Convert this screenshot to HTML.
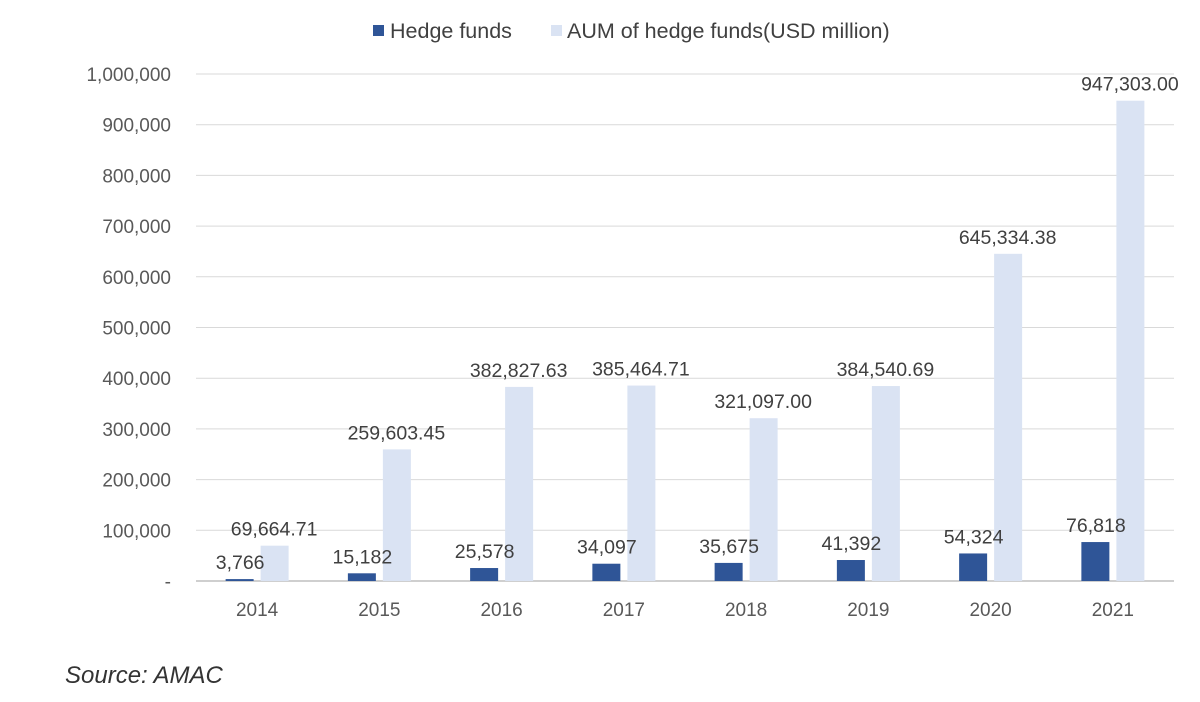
<!DOCTYPE html>
<html><head><meta charset="utf-8"><style>
body{margin:0;background:#fff;width:1200px;height:697px;overflow:hidden;font-family:"Liberation Sans",sans-serif}
svg text{font-family:"Liberation Sans",sans-serif}
</style></head><body>
<svg id="chart" width="1200" height="697" xmlns="http://www.w3.org/2000/svg">
<g id="legend">
<g><rect x="373" y="25" width="11" height="11" fill="#2f5597"/><text x="390" y="38" font-size="21.5" fill="#404040">Hedge funds</text></g>
<g><rect x="551" y="25" width="11" height="11" fill="#dae3f3"/><text x="567" y="38" font-size="21.5" fill="#404040">AUM of hedge funds(USD million)</text></g>
</g>
<g id="grid"></g><g id="bars"></g><g id="labels"></g>
<text x="65" y="683" font-size="24" font-style="italic" fill="#333">Source: AMAC</text>
</svg>
<script>
const years=["2014","2015","2016","2017","2018","2019","2020","2021"];
const hedgeFunds=[3766,15182,25578,34097,35675,41392,54324,76818];
const aum=[69664.71,259603.45,382827.63,385464.71,321097.00,384540.69,645334.38,947303.00];
const hedgeLabels=["3,766","15,182","25,578","34,097","35,675","41,392","54,324","76,818"];
const aumLabels=["69,664.71","259,603.45","382,827.63","385,464.71","321,097.00","384,540.69","645,334.38","947,303.00"];
const yTicks=[0,100000,200000,300000,400000,500000,600000,700000,800000,900000,1000000];
const yTickLabels=["-","100,000","200,000","300,000","400,000","500,000","600,000","700,000","800,000","900,000","1,000,000"];
const NS="http://www.w3.org/2000/svg";
const L=196,R=1174,Y0=581,Y1=74;
const y=v=>Y0-(v/1000000)*(Y0-Y1);
const bw=(R-L)/years.length;
const xc=i=>L+bw*(i+0.5);
function mk(t,a,p){const e=document.createElementNS(NS,t);for(const k in a)e.setAttribute(k,a[k]);p.appendChild(e);return e;}
const g=document.getElementById('grid'),b=document.getElementById('bars'),lb=document.getElementById('labels');
yTicks.forEach((v,i)=>{
 const ln=mk('line',{x1:L,x2:R,y1:y(v),y2:y(v),stroke:i==0?'#bfbfbf':'#d9d9d9','stroke-width':i==0?1.5:1},g);
 
 
 const t=mk('text',{x:171,y:y(v)+7,'text-anchor':'end','font-size':19,fill:'#595959'},g);
 t.textContent=yTickLabels[i];
 
 
});
years.forEach((yr,i)=>{
 const c=xc(i);
 const r1=mk('rect',{x:c-31.5,y:y(hedgeFunds[i]),width:28,height:Y0-y(hedgeFunds[i]),fill:'#2f5597'},b);
 
 
 const r2=mk('rect',{x:c+3.5,y:y(aum[i]),width:28,height:Y0-y(aum[i]),fill:'#dae3f3'},b);
 
 
 const t1=mk('text',{x:c-17,y:y(hedgeFunds[i])-10,'text-anchor':'middle','font-size':19.5,fill:'#404040'},lb);
 t1.textContent=hedgeLabels[i];
 
 
 const t2=mk('text',{x:c+17,y:y(aum[i])-10,'text-anchor':'middle','font-size':19.5,fill:'#404040'},lb);
 t2.textContent=aumLabels[i];
 
 
 const tx=mk('text',{x:c,y:616,'text-anchor':'middle','font-size':19,fill:'#595959'},lb);
 tx.textContent=yr;
 
 
});
</script>
</body></html>
